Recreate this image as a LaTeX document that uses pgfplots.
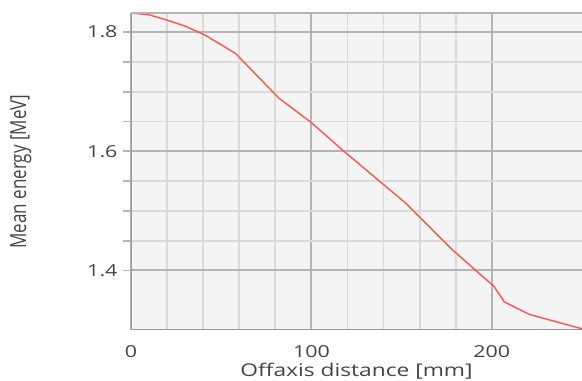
\documentclass[border=0pt]{standalone}
\usepackage{fontspec}
\setmainfont[FakeStretch=1.3]{Open Sans}
\newfontfamily\ylabfont{Open Sans}
\usepackage{pgfplots}
\pgfplotsset{compat=1.18}
\definecolor{bgc}{HTML}{F4F4F4}
\definecolor{mingrid}{HTML}{DADADA}
\definecolor{majgrid}{HTML}{B4B4B4}
\definecolor{axc}{HTML}{9A9A9A}
\definecolor{txt}{HTML}{444444}
\definecolor{curve}{HTML}{FF5252}
\begin{document}
\begin{tikzpicture}
\begin{axis}[
  scale only axis,
  width=451bp, height=317bp,
  xmin=0, xmax=250, ymin=1.30, ymax=1.832,
  xtick={0,100,200}, minor x tick num=4,
  ytick={1.4,1.6,1.8}, minor y tick num=3,
  yticklabels={1.4,1.6,1.8},
  grid=both,
  minor grid style={mingrid, line width=1.8bp},
  major grid style={majgrid, line width=2bp},
  axis background/.style={fill=bgc},
  axis line style={draw=none},
  x tick style={draw=none},
  y tick style={majgrid, line width=1.8bp},
  tick align=outside,
  major tick length=8bp, minor tick length=8bp,
  /pgf/number format/assume math mode=true,
  xticklabel style={font=\fontsize{16.5bp}{18bp}\selectfont, text=txt, anchor=base, inner sep=0pt, yshift=-19bp},
  yticklabel style={font=\fontsize{16.5bp}{18bp}\selectfont, text=txt, xshift=-2bp},
  xlabel={Offaxis distance [mm]},
  ylabel={\scalebox{1}[1.3]{Mean energy [MeV]}},
  xlabel style={font=\fontsize{17.5bp}{19bp}\selectfont, text=txt, at={(axis description cs:0.5,0)}, anchor=base, inner sep=0pt, yshift=-46bp},
  ylabel style={font=\ylabfont\fontsize{17bp}{19bp}\selectfont, text=txt, yshift=49bp},
  clip=true,
]
\addplot[curve, line width=1.4bp] coordinates {
(0,1.832) (10,1.829) (20,1.820) (30,1.810) (41,1.795) (58,1.764) (82,1.689) (100,1.648)
(118,1.600) (153,1.511) (178,1.435) (193,1.395) (201,1.374)
(207,1.347) (221,1.326) (250,1.302)
};
\draw[axc, line width=2.2bp] (rel axis cs:0,1) -- (rel axis cs:0,0) -- (rel axis cs:1,0);
\draw[majgrid, line width=2bp] (rel axis cs:0,1) -- (rel axis cs:1,1);
\end{axis}
\pgfresetboundingbox
\path (current axis.south west) ++(-131bp,-51bp) coordinate (bl);
\path (current axis.north east) ++(0bp,13bp) coordinate (tr);
\path[use as bounding box] (bl) rectangle (tr);
\end{tikzpicture}
\end{document}
